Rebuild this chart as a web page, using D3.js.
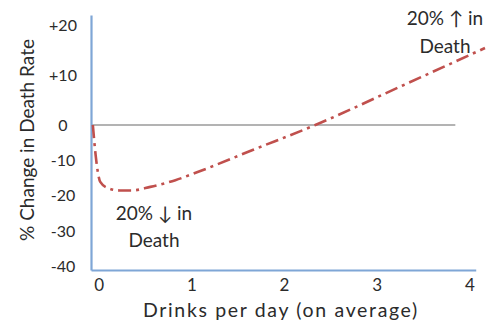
<!DOCTYPE html>
<html>
<head>
<meta charset="utf-8">
<script src="https://cdn.jsdelivr.net/npm/d3@7"></script>
<style>
  html, body { margin: 0; padding: 0; background: #fff; }
  svg { display: block; }
  text { font-family: Lato, "Open Sans", sans-serif; fill: #2b2b2b; }
</style>
</head>
<body>
<svg id="chart" width="490" height="322"></svg>
<script>
// ---- data ----
const drinks = [-0.03, 0.0, 0.02, 0.05, 0.13, 0.26, 0.39, 0.59, 0.86, 1.1, 1.7, 2.37, 3.3, 4.2];
const change = [0, -8.5, -12.7, -16.1, -17.8, -18.5, -18.5, -17.5, -15.6, -13.3, -7.0, 0, 7.8, 15.4];
const xTicks = [0, 1, 2, 3, 4];
const xTickLabels = ["0", "1", "2", "3", "4"];
const yTicks = [20, 10, 0, -10, -20, -30, -40];
const yTickLabels = ["+20", "+10", "0", "-10", "-20", "-30", "-40"];
const xTitle = "Drinks per day (on average)";
const yTitle = "% Change in Death Rate";
const noteLow = ["20% \u2193 in", "Death"];
const noteHigh = ["20% \u2191 in", "Death"];

// ---- scales ----
const svg = d3.select("#chart");
const x = d3.scaleLinear().domain([-0.05, 4.2]).range([91, 485]);
const y = d3.scaleLinear().domain([-41, 0, 22]).range([270, 125, 15]);

const axisColor = "#7fa6d6";

// zero reference line
svg.append("line")
  .attr("x1", x(-0.05)).attr("x2", x(3.88))
  .attr("y1", y(0)).attr("y2", y(0))
  .attr("stroke", "#9a9a9a").attr("stroke-width", 1.6);

// x axis
const xAxisScale = x.copy().domain([-0.05, 4.1]).range([x(-0.05), x(4.1)]);
const gx = svg.append("g").attr("transform", `translate(0,${y(-41)})`)
  .call(d3.axisBottom(xAxisScale).tickValues(xTicks)
    .tickFormat((d, i) => xTickLabels[i]).tickSize(0).tickPadding(9));
gx.select(".domain").attr("stroke", axisColor).attr("stroke-width", 2.2);
gx.selectAll("text").style("font-size", "17px").style("font-family", "Lato, sans-serif")
  .attr("fill", "#2b2b2b").attr("dx", "3");

// y axis
const gy = svg.append("g").attr("transform", `translate(${x(-0.05)},0)`)
  .call(d3.axisLeft(y).tickValues(yTicks)
    .tickFormat((d, i) => yTickLabels[i]).tickSize(0).tickPadding(0));
gy.select(".domain").attr("stroke", axisColor).attr("stroke-width", 2.2);
gy.selectAll("text").style("font-size", "16px").style("font-family", "Lato, sans-serif")
  .attr("fill", "#2b2b2b").attr("text-anchor", "middle").attr("x", -28);

// curve
const line = d3.line()
  .x((d, i) => x(drinks[i]))
  .y((d, i) => y(change[i]))
  .curve(d3.curveMonotoneX);
svg.append("path")
  .attr("d", line(change))
  .attr("fill", "none")
  .attr("stroke", "#c0504d")
  .attr("stroke-width", 2.6)
  .attr("stroke-dasharray", "13,5,3,5");

// axis titles (widen with letter spacing to match the reference span)
function spreadText(sel, target) {
  const s = sel.text();
  const w = sel.node().getComputedTextLength();
  sel.style("letter-spacing", Math.max(0, (target - w) / s.length) + "px");
}
const xt = svg.append("text").attr("x", 281).attr("y", 317)
  .attr("text-anchor", "middle").style("font-size", "19.5px").text(xTitle);
spreadText(xt, 276);
const yt = svg.append("text")
  .attr("transform", "translate(34,140) rotate(-90)")
  .attr("text-anchor", "middle").style("font-size", "19px").text(yTitle);
spreadText(yt, 196);

// annotations
function note(lines, cx, y0, dy) {
  lines.forEach((t, i) => {
    svg.append("text").attr("x", cx).attr("y", y0 + i * dy)
      .attr("text-anchor", "middle").style("font-size", "19px").text(t);
  });
}
note(noteLow, 154, 220, 27);
note(noteHigh, 445, 25, 28);
</script>
</body>
</html>
